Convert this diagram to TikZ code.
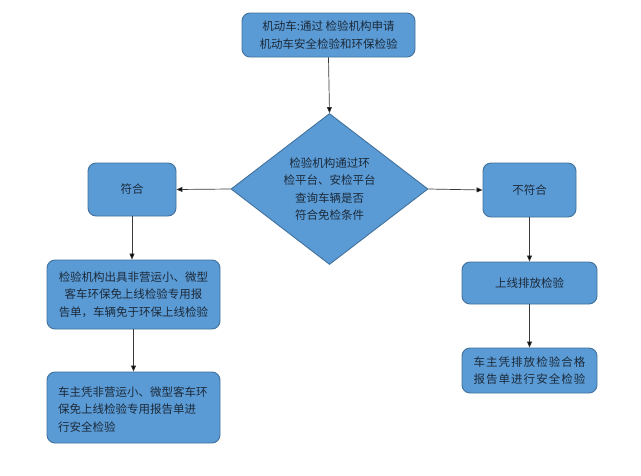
\documentclass[tikz,border=0pt]{standalone}
\usepackage{fontspec}
\setmainfont{Noto Sans CJK SC}
\usetikzlibrary{shapes.geometric,arrows.meta}
\definecolor{boxfill}{HTML}{5B9BD5}
\definecolor{boxline}{HTML}{41719C}
\definecolor{boxtext}{HTML}{1B2A3A}
\definecolor{arrowc}{HTML}{3A3A3A}
\tikzset{
  flowbox/.style={draw=boxline, fill=boxfill, line width=0.9pt, rounded corners=8pt,
    inner sep=0pt, text=boxtext, font=\fontsize{11.5}{17.5}\selectfont},
  decbox/.style={draw=boxline, fill=boxfill, line width=0.9pt, shape=diamond, aspect=1.3,
    inner sep=0pt, text=boxtext, font=\fontsize{11.5}{17.5}\selectfont, align=center,
    minimum width=197pt, minimum height=151pt},
  flowarrow/.style={draw=arrowc, line width=0.7pt, -{Triangle[length=6pt,width=5pt,fill=black]}}
}
\begin{document}
\begin{tikzpicture}[x=1pt,y=-1pt]
\useasboundingbox (0,0) rectangle (641,475);
\fill[white] (0,0) rectangle (641,475);

\node[flowbox, minimum width=173pt, minimum height=44pt, align=center] (apply) at (328.5,35)
  {机动车:通过 检验机构申请\\机动车安全检验和环保检验};
\node[decbox] (check) at (329.5,189)
  {检验机构通过环\\检平台、安检平台\\查询车辆是否\\符合免检条件};
\node[flowbox, minimum width=88pt, minimum height=53pt] (yes) at (132,189.5) {符合};
\node[flowbox, minimum width=93pt, minimum height=54pt] (no) at (529.5,190) {不符合};
\node[flowbox, minimum width=173pt, minimum height=69pt, align=center] (report) at (133.5,294.5)
  {检验机构出具非营运小、微型\\客车环保免上线检验专用报\\告单，车辆免于环保上线检验};
\node[flowbox, minimum width=173pt, minimum height=71pt] (safe1) at (133.5,407.5) {};
\node[text=boxtext, font=\fontsize{11.5}{17.5}\selectfont, align=left, inner sep=0pt, anchor=west] (safe1text) at (58,409.5)
  {车主凭非营运小、微型客车环\\保免上线检验专用报告单进\\行安全检验};
\node[flowbox, minimum width=135pt, minimum height=42pt] (emit) at (529.5,283) {上线排放检验};
\node[flowbox, minimum width=135pt, minimum height=45pt, align=center,
  font=\fontsize{11.5}{17.5}\selectfont\addfontfeature{LetterSpace=9}] (safe2) at (529.5,370.5)
  {车主凭排放检验合格\\报告单进行安全检验};

\draw[flowarrow] (apply.south) -- (check.north);
\draw[flowarrow] (check.west) -- (yes.east);
\draw[flowarrow] (check.east) -- (no.west);
\draw[flowarrow] (yes.south) -- (report.north -| yes.south);
\draw[flowarrow] (report.south) -- (safe1.north);
\draw[flowarrow] (no.south) -- (emit.north);
\draw[flowarrow] (emit.south) -- (safe2.north);
\end{tikzpicture}
\end{document}
